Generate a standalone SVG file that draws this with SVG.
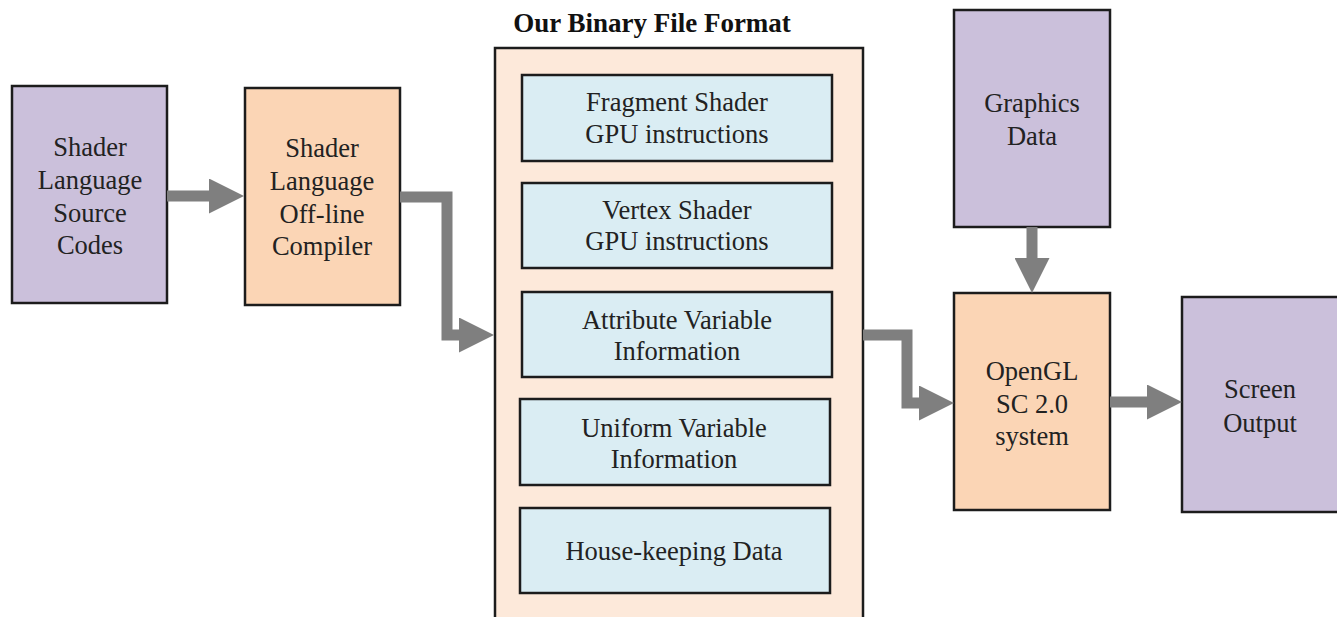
<svg xmlns="http://www.w3.org/2000/svg" width="1337" height="617" viewBox="0 0 1337 617">
<style>
.box{stroke:#1c1c1c;stroke-width:2.5}
.purple{fill:#CBC0DB}
.orange{fill:#FBD5B5}
.cont{fill:#FDE9DA}
.blue{fill:#DAEDF3}
text{font-family:"Liberation Serif","Times New Roman",serif;font-size:26.5px;fill:#222;text-anchor:middle}
.title{font-weight:bold;font-size:27px;fill:#111}
.conn{fill:none;stroke:#7f7f7f;stroke-width:11;stroke-linejoin:miter}
</style>
<defs>
<marker id="ah" markerUnits="userSpaceOnUse" viewBox="0 0 35 35" refX="0" refY="17.5" markerWidth="35" markerHeight="35" orient="auto">
<path d="M0,0 L35,17.5 L0,35 Z" fill="#7f7f7f"/>
</marker>
</defs>
<rect width="1337" height="617" fill="#ffffff"/>
<g id="binary-format">
<text class="title" x="652" y="32">Our Binary File Format</text>
<rect class="box cont" x="495" y="48" width="368" height="590"/>
</g>
<g id="fragment">
<rect class="box blue" x="522" y="75" width="310" height="86"/>
<text x="677" y="111">Fragment Shader</text>
<text x="677" y="143">GPU instructions</text>
</g>
<g id="vertex">
<rect class="box blue" x="522" y="183" width="310" height="85"/>
<text x="677" y="219">Vertex Shader</text>
<text x="677" y="250">GPU instructions</text>
</g>
<g id="attribute">
<rect class="box blue" x="522" y="292" width="310" height="85"/>
<text x="677" y="329">Attribute Variable</text>
<text x="677" y="360">Information</text>
</g>
<g id="uniform">
<rect class="box blue" x="520" y="399" width="310" height="86"/>
<text x="674" y="437">Uniform Variable</text>
<text x="674" y="468">Information</text>
</g>
<g id="housekeeping">
<rect class="box blue" x="520" y="508" width="310" height="85"/>
<text x="674" y="560">House-keeping Data</text>
</g>
<g id="source">
<rect class="box purple" x="12" y="86" width="155" height="217"/>
<text x="90" y="156">Shader</text>
<text x="90" y="189">Language</text>
<text x="90" y="222">Source</text>
<text x="90" y="254">Codes</text>
</g>
<g id="compiler">
<rect class="box orange" x="245" y="88" width="155" height="217"/>
<text x="322" y="157">Shader</text>
<text x="322" y="190">Language</text>
<text x="322" y="223">Off-line</text>
<text x="322" y="255">Compiler</text>
</g>
<g id="graphics">
<rect class="box purple" x="954" y="10" width="156" height="217"/>
<text x="1032" y="112">Graphics</text>
<text x="1032" y="145">Data</text>
</g>
<g id="opengl">
<rect class="box orange" x="954" y="293" width="156" height="217"/>
<text x="1032" y="380">OpenGL</text>
<text x="1032" y="413">SC 2.0</text>
<text x="1032" y="445">system</text>
</g>
<g id="screen">
<rect class="box purple" x="1182" y="297" width="160" height="215"/>
<text x="1260" y="398">Screen</text>
<text x="1260" y="432">Output</text>
</g>
<g id="connectors">
<path class="conn" d="M167,196 H209" marker-end="url(#ah)"/>
<path class="conn" d="M400,197 H447 V335 H459" marker-end="url(#ah)"/>
<path class="conn" d="M1032,227 V258" marker-end="url(#ah)"/>
<path class="conn" d="M863,335 H907 V403 H919" marker-end="url(#ah)"/>
<path class="conn" d="M1110,402 H1147" marker-end="url(#ah)"/>
</g>
</svg>
